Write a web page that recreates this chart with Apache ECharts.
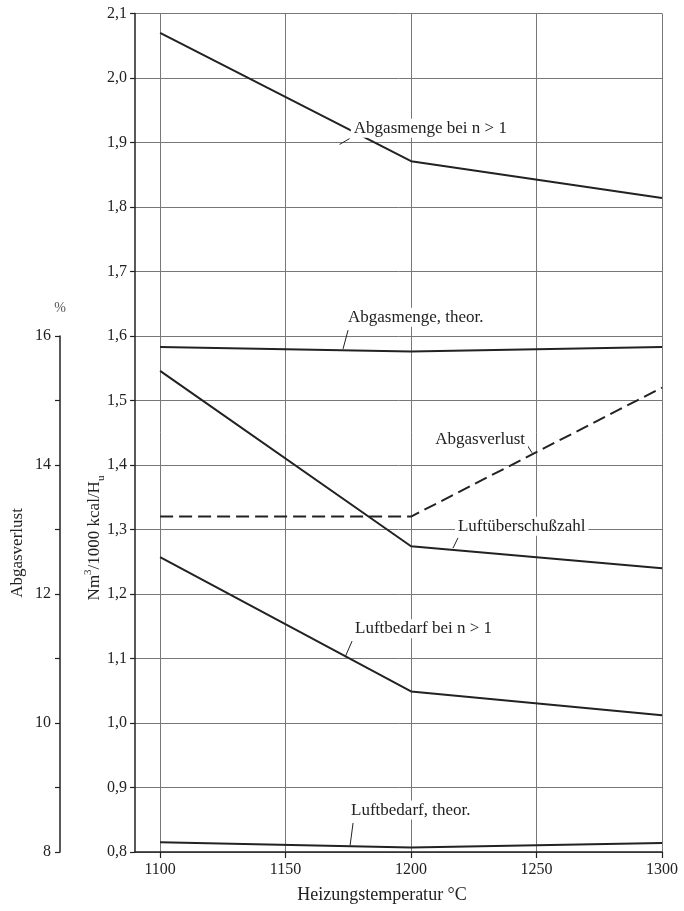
<!DOCTYPE html>
<html>
<head>
<meta charset="utf-8">
<script src="https://cdn.jsdelivr.net/npm/echarts@6/dist/echarts.min.js"></script>
<style>
html,body{margin:0;padding:0;background:#fff;}
#c{width:684px;height:911px;}
</style>
</head>
<body>
<div id="c"></div>
<script>
// ---- data ----
const temps = [1100, 1200, 1300];
const abgasmengeN = [2.070, 1.871, 1.814];
const abgasmengeTheor = [1.583, 1.576, 1.583];
const luftueberschuss = [1.546, 1.274, 1.240];
const luftbedarfN = [1.257, 1.049, 1.012];
const luftbedarfTheor = [0.815, 0.807, 0.814];
const abgasverlust = [13.2, 13.2, 15.2];
const xTicks = [1100, 1150, 1200, 1250, 1300];

const FONT = '"Liberation Serif", "DejaVu Serif", serif';
const INK = '#222';
const GRID = '#777';

function pairs(xs, ys) { return xs.map((x, i) => [x, ys[i]]); }
function fmt(v) { return v.toFixed(1).replace('.', ','); }

const chart = echarts.init(document.getElementById('c'), null, {renderer: 'canvas'});

function solid(name, ys) {
  return {
    name, type: 'line', xAxisIndex: 0, yAxisIndex: 0,
    data: pairs(temps, ys), symbol: 'none', silent: true,
    lineStyle: {color: INK, width: 2}, z: 5
  };
}

chart.setOption({
  animation: false,
  backgroundColor: '#fff',
  grid: [
    {left: 135, right: 22, top: 13.5, bottom: 59},
    {left: 135, right: 22, top: 336, bottom: 59}
  ],
  xAxis: [
    {
      gridIndex: 0, type: 'value', min: 1090, max: 1300,
      axisLine: {show: true, onZero: false, lineStyle: {color: INK, width: 1.5}},
      axisTick: {show: true, customValues: xTicks, length: 6, lineStyle: {color: INK, width: 1.2}},
      axisLabel: {customValues: xTicks, margin: 10, fontSize: 16, fontFamily: FONT, color: INK,
        formatter: v => String(Math.round(v))},
      splitLine: {show: true, lineStyle: {color: GRID, width: 1}}
    },
    {gridIndex: 1, type: 'value', min: 1090, max: 1300, show: false}
  ],
  yAxis: [
    {
      gridIndex: 0, type: 'value', min: 0.8, max: 2.1, interval: 0.1,
      axisLine: {show: true, onZero: false, lineStyle: {color: INK, width: 1.5}},
      axisTick: {show: true, length: 5, lineStyle: {color: INK, width: 1.2}},
      axisLabel: {margin: 8, fontSize: 16, fontFamily: FONT, color: INK, formatter: fmt},
      splitLine: {show: true, lineStyle: {color: GRID, width: 1}}
    },
    {
      gridIndex: 1, type: 'value', min: 8, max: 16, interval: 1,
      position: 'left', offset: 75,
      axisLine: {show: true, onZero: false, lineStyle: {color: INK, width: 1.5}},
      axisTick: {show: true, length: 5, lineStyle: {color: INK, width: 1.2}},
      axisLabel: {margin: 9, fontSize: 16, fontFamily: FONT, color: INK,
        formatter: v => (Math.round(v) % 2 === 0 ? String(Math.round(v)) : '')},
      splitLine: {show: false}
    }
  ],
  series: [
    solid('Abgasmenge bei n > 1', abgasmengeN),
    solid('Abgasmenge, theor.', abgasmengeTheor),
    solid('Luftüberschußzahl', luftueberschuss),
    solid('Luftbedarf bei n > 1', luftbedarfN),
    solid('Luftbedarf, theor.', luftbedarfTheor),
    {
      name: 'Abgasverlust', type: 'line', xAxisIndex: 1, yAxisIndex: 1,
      data: pairs(temps, abgasverlust), symbol: 'none', silent: true,
      lineStyle: {color: INK, width: 2, type: [13, 6]}, z: 5
    }
  ]
});

// ---- annotations (anchored in data coordinates) ----
const annotations = [
  {text: 'Abgasmenge bei n > 1', at: [1176.0, 1.922], align: 'left',
   leader: [[1175.5, 1.906], [1171.5, 1.897]]},
  {text: 'Abgasmenge, theor.', at: [1173.7, 1.629], align: 'left',
   leader: [[1174.9, 1.609], [1172.9, 1.580]]},
  {text: 'Abgasverlust', at: [1246.6, 1.439], align: 'right',
   leader: [[1245.4, 1.436], [1248.2, 1.419]]},
  {text: 'Luftüberschußzahl', at: [1217.5, 1.305], align: 'left',
   leader: [[1218.7, 1.287], [1216.7, 1.271]]},
  {text: 'Luftbedarf bei n > 1', at: [1176.5, 1.146], align: 'left',
   leader: [[1176.5, 1.127], [1173.7, 1.102]]},
  {text: 'Luftbedarf, theor.', at: [1174.9, 0.865], align: 'left',
   leader: [[1176.9, 0.845], [1175.7, 0.810]]}
];

const g = [];
annotations.forEach(a => {
  const p = chart.convertToPixel({gridIndex: 0}, a.at);
  const l1 = chart.convertToPixel({gridIndex: 0}, a.leader[0]);
  const l2 = chart.convertToPixel({gridIndex: 0}, a.leader[1]);
  g.push({
    type: 'line', z: 90, silent: true,
    shape: {x1: l1[0], y1: l1[1], x2: l2[0], y2: l2[1]},
    style: {stroke: INK, lineWidth: 1}
  });
  g.push({
    type: 'text', z: 100, silent: true, x: p[0], y: p[1],
    style: {
      text: a.text, font: '17px ' + FONT, fill: INK,
      textAlign: a.align, textVerticalAlign: 'middle',
      backgroundColor: '#fff', padding: [1, 3]
    }
  });
});

// axis titles
g.push({
  type: 'text', z: 100, silent: true, x: 95, y: 538, rotation: Math.PI / 2,
  style: {
    text: '{n|Nm}{s|3}{n|/1000 kcal/H}{b|u}',
    textAlign: 'center', textVerticalAlign: 'middle', fill: INK,
    rich: {
      n: {fontSize: 17, fontFamily: FONT, lineHeight: 24, verticalAlign: 'middle', fill: INK},
      s: {fontSize: 11, fontFamily: FONT, verticalAlign: 'top', fill: INK},
      b: {fontSize: 11, fontFamily: FONT, verticalAlign: 'bottom', fill: INK}
    }
  }
});
g.push({
  type: 'text', z: 100, silent: true, x: 18, y: 553, rotation: Math.PI / 2,
  style: {text: 'Abgasverlust', font: '17px ' + FONT, fill: INK,
    textAlign: 'center', textVerticalAlign: 'middle'}
});
g.push({
  type: 'text', z: 100, silent: true, x: 60, y: 308,
  style: {text: '%', font: '14px ' + FONT, fill: '#555',
    textAlign: 'center', textVerticalAlign: 'middle'}
});
g.push({
  type: 'text', z: 100, silent: true, x: 382, y: 895,
  style: {text: 'Heizungstemperatur °C', font: '18px ' + FONT, fill: INK,
    textAlign: 'center', textVerticalAlign: 'middle'}
});

chart.setOption({graphic: {elements: g}});
</script>
</body>
</html>
